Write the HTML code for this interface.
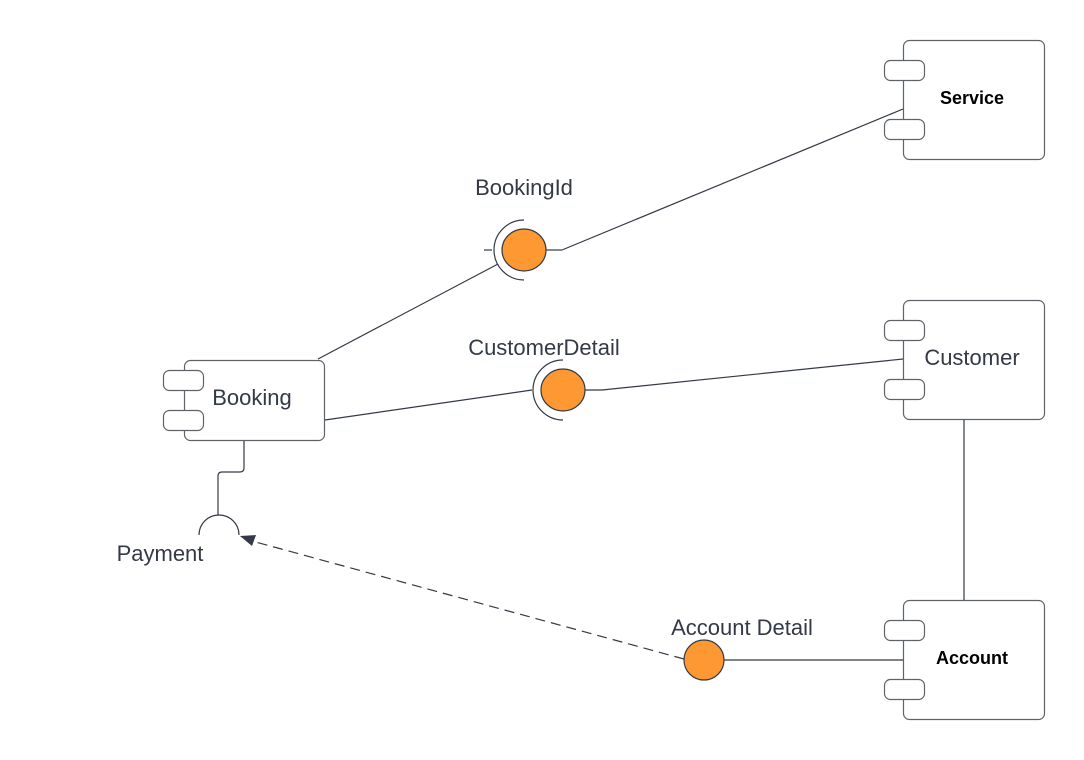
<!DOCTYPE html>
<html><head><meta charset="utf-8"><style>
html,body{margin:0;padding:0;background:#fff;}
svg{display:block;}
.lbl{font-family:"Liberation Sans",sans-serif;font-size:22px;fill:#333a45;}
.b{font-family:"Liberation Sans",sans-serif;font-size:18px;font-weight:bold;fill:#000;}
</style></head><body>
<svg width="1084" height="760" viewBox="0 0 1084 760" xmlns="http://www.w3.org/2000/svg">
<g fill="#fff" stroke="#5f6368" stroke-width="1.2">
  <rect x="903.5" y="40.5" width="141" height="119" rx="6"/>
  <rect x="884.5" y="60.5" width="40" height="20" rx="6"/>
  <rect x="884.5" y="119.5" width="40" height="20" rx="6"/>
  <rect x="903.5" y="300.5" width="141" height="119" rx="6"/>
  <rect x="884.5" y="320.5" width="40" height="20" rx="6"/>
  <rect x="884.5" y="379.5" width="40" height="20" rx="6"/>
  <rect x="903.5" y="600.5" width="141" height="119" rx="6"/>
  <rect x="884.5" y="620.5" width="40" height="20" rx="6"/>
  <rect x="884.5" y="679.5" width="40" height="20" rx="6"/>
  <rect x="184.5" y="360.5" width="140" height="80" rx="6"/>
  <rect x="163.5" y="370.5" width="40" height="20" rx="6"/>
  <rect x="163.5" y="410.5" width="40" height="20" rx="6"/>
</g>
<g fill="none" stroke="#333a45" stroke-width="1.2">
  <line x1="318" y1="359" x2="498" y2="264"/>
  <line x1="484" y1="250" x2="492" y2="250"/>
  <path d="M524 220 A30 30 0 0 0 524 280"/>
  <line x1="546" y1="250" x2="562" y2="250"/>
  <line x1="562" y1="250" x2="903" y2="109"/>
  <line x1="325" y1="420" x2="532" y2="390"/>
  <path d="M563 360 A30 30 0 0 0 563 420"/>
  <line x1="585" y1="390" x2="602" y2="390"/>
  <line x1="602" y1="390" x2="903" y2="359"/>
  <line x1="964" y1="420" x2="964" y2="600"/>
  <line x1="724" y1="660" x2="903" y2="660"/>
  <path d="M244 441 L244 468 Q244 472 240 472 L222 472 Q218 472 218 476 L218 515"/>
  <path d="M199 535 A20 20 0 0 1 239 535"/>
  <line x1="684" y1="659" x2="252" y2="541" stroke-dasharray="10,6"/>
</g>
<polygon points="240,536 256,535 252,546" fill="#333a45"/>
<g fill="#fd9833" stroke="#333a45" stroke-width="1.2">
  <ellipse cx="524" cy="250" rx="22" ry="21"/>
  <ellipse cx="563" cy="390" rx="22" ry="21"/>
  <circle cx="704" cy="660" r="20"/>
</g>
<text class="lbl" x="524" y="195" text-anchor="middle">BookingId</text>
<text class="lbl" x="544" y="355" text-anchor="middle">CustomerDetail</text>
<text class="lbl" x="742" y="635" text-anchor="middle">Account Detail</text>
<text class="lbl" x="160" y="561" text-anchor="middle">Payment</text>
<text class="lbl" x="252" y="405" text-anchor="middle">Booking</text>
<text class="lbl" x="972" y="365" text-anchor="middle">Customer</text>
<text class="b" x="972" y="104" text-anchor="middle">Service</text>
<text class="b" x="972" y="664" text-anchor="middle">Account</text>
</svg>
</body></html>
